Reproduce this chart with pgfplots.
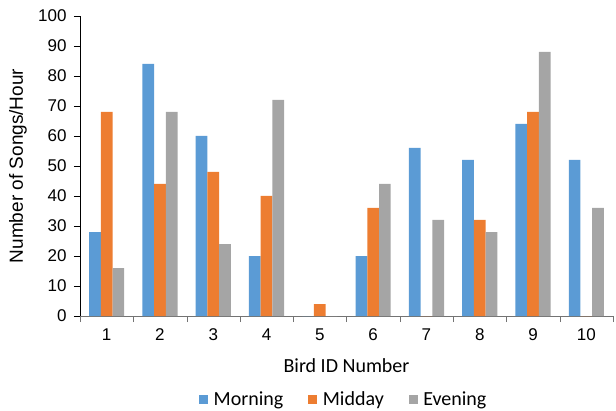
\documentclass[border=0pt]{standalone}
\usepackage{pgfplots}
\pgfplotsset{compat=1.18}
\usepackage{fontspec}
\setmainfont{Liberation Sans}
\newfontfamily\calfont{Carlito}
\definecolor{cMorning}{HTML}{5B9BD5}
\definecolor{cMidday}{HTML}{ED7D31}
\definecolor{cEvening}{HTML}{A5A5A5}
\begin{document}
\begin{tikzpicture}
\begin{axis}[
  width=533bp, height=300bp, scale only axis,
  ybar=0pt, bar width=0.22,
  xmin=0.5, xmax=10.5, ymin=0, ymax=100,
  axis x line=bottom, axis y line=left,
  axis line style={-},
  x axis line style={draw=black!55},
  xtick={1,...,10},
  minor xtick={0.5,1.5,...,10.5},
  major x tick style={draw=none},
  minor x tick style={draw=black!55},
  ytick={0,10,...,100},
  y tick style={draw=black},
  tick align=outside,
  major tick length=6bp, minor tick length=6bp,
  /pgf/number format/assume math mode=true,
  ticklabel style={font=\fontsize{17bp}{20bp}\selectfont},
  xticklabel style={yshift=-3bp},
  yticklabel style={xshift=-4bp},
  xlabel={\calfont Bird ID Number},
  ylabel={Number of Songs/Hour},
  xlabel style={font=\fontsize{20bp}{23bp}\selectfont,
    at={(axis description cs:0.5,-0.165)}, anchor=center},
  ylabel style={font=\fontsize{19bp}{22bp}\selectfont,
    at={(axis description cs:-0.1163,0.5)}, anchor=center},
  legend columns=3,
  legend style={draw=none, at={(axis description cs:0.495,-0.2767)}, anchor=center,
    font=\calfont\fontsize{20bp}{23bp}\selectfont,
    /tikz/every odd column/.append style={column sep=3.5bp},
    /tikz/every even column/.append style={column sep=23bp}},
  legend image code/.code={\fill[#1] (0bp,-4.5bp) rectangle (9bp,4.5bp);},
]
\addplot[fill=cMorning, draw=none] coordinates {
(1,28) (2,84) (3,60) (4,20) (5,0) (6,20) (7,56) (8,52) (9,64) (10,52)};
\addlegendentry{Morning}
\addplot[fill=cMidday, draw=none] coordinates {
(1,68) (2,44) (3,48) (4,40) (5,4) (6,36) (7,0) (8,32) (9,68) (10,0)};
\addlegendentry{Midday}
\addplot[fill=cEvening, draw=none] coordinates {
(1,16) (2,68) (3,24) (4,72) (5,0) (6,44) (7,32) (8,28) (9,88) (10,36)};
\addlegendentry{Evening}
\end{axis}
\pgfresetboundingbox
\path[use as bounding box] ([xshift=-80bp,yshift=-95bp]current axis.south west)
  rectangle ([xshift=3bp,yshift=16bp]current axis.north east);
\end{tikzpicture}
\end{document}
